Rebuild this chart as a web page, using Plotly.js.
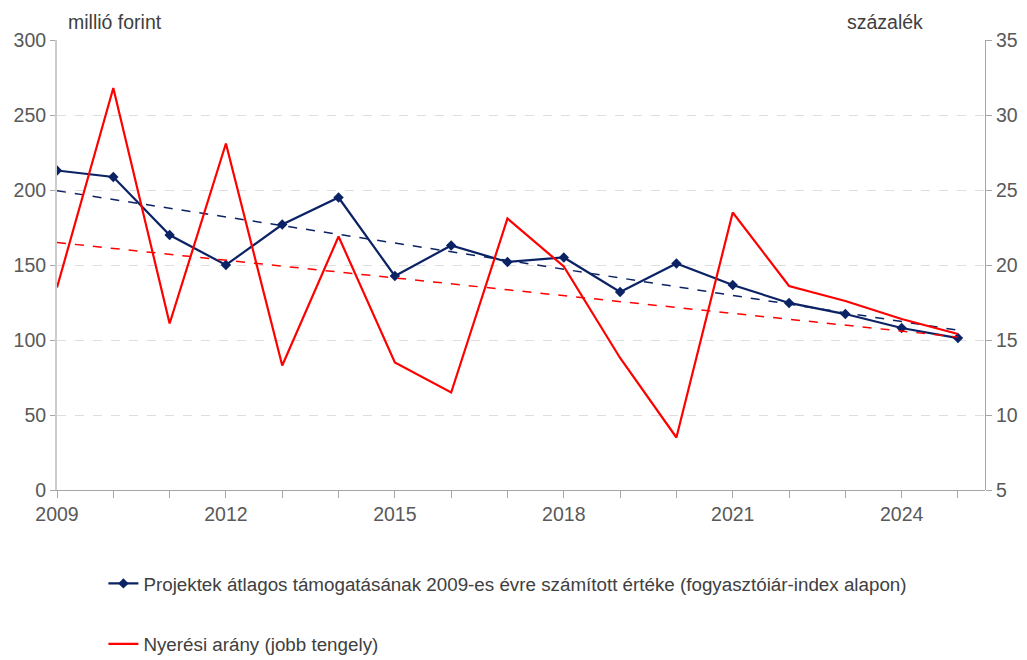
<!DOCTYPE html>
<html>
<head>
<meta charset="utf-8">
<script src="https://cdn.plot.ly/plotly-3.0.1.min.js"></script>
<style>html,body{margin:0;padding:0;background:#fff;}#chart{width:1027px;height:660px;}</style>
</head>
<body>
<div id="chart"></div>
<script>
// Data
var years = [2009,2010,2011,2012,2013,2014,2015,2016,2017,2018,2019,2020,2021,2022,2023,2024,2025];
var avgSupport = [213,208.7,170,150,177,195,142.7,163,152,155,132,151,136.7,124.7,117.3,108,101.3];
var winRate = [18.5,31.8,16.1,28.1,13.3,21.9,13.5,11.5,23.1,19.9,13.8,8.5,23.5,18.6,17.6,16.4,15.4];
var trendYears = [2009, 2025];
var avgSupportTrend = [199.5, 106.5];
var winRateTrend = [21.5, 15.2];
var xTickVals = [2009,2010,2011,2012,2013,2014,2015,2016,2017,2018,2019,2020,2021,2022,2023,2024,2025];
var xTickText = ['2009','','','2012','','','2015','','','2018','','','2021','','','2024',''];
var leftTitle = 'millió forint';
var rightTitle = 'százalék';
var nameBlue = 'Projektek átlagos támogatásának 2009-es évre számított értéke (fogyasztóiár-index alapon)';
var nameRed = 'Nyerési arány (jobb tengely)';

var blue = '#0b2265';
var red = '#ff0000';
var tickColor = '#595959';
var fs = 19.5;

var traces = [
  {x: trendYears, y: avgSupportTrend, type: 'scatter', mode: 'lines', yaxis: 'y',
   line: {color: blue, width: 1.5, dash: 'dash'}, showlegend: false, hoverinfo: 'skip'},
  {x: trendYears, y: winRateTrend, type: 'scatter', mode: 'lines', yaxis: 'y2',
   line: {color: red, width: 1.5, dash: 'dash'}, showlegend: false, hoverinfo: 'skip'},
  {x: years, y: winRate, type: 'scatter', mode: 'lines', yaxis: 'y2', name: nameRed,
   legendgroup: 'b', legendrank: 2,
   line: {color: red, width: 2.2}},
  {x: years, y: avgSupport, type: 'scatter', mode: 'lines+markers', yaxis: 'y', name: nameBlue,
   legendgroup: 'a', legendrank: 1,
   line: {color: blue, width: 2.2}, marker: {symbol: 'diamond', size: 8, color: blue}}
];

var layout = {
  width: 1027, height: 660,
  margin: {l: 57, r: 42, t: 40, b: 170, autoexpand: false},
  paper_bgcolor: '#fff', plot_bgcolor: '#fff',
  font: {family: 'Liberation Sans, Arial, sans-serif', color: tickColor, size: fs},
  xaxis: {
    range: [2009, 2025.48], tickmode: 'array', tickvals: xTickVals, ticktext: xTickText,
    ticks: 'outside', ticklen: 7, tickcolor: '#a6a6a6', showgrid: false, zeroline: false,
    showline: true, linecolor: '#a6a6a6', linewidth: 1, tickfont: {size: fs, color: tickColor}
  },
  yaxis: {
    range: [0, 300], tickvals: [0,50,100,150,200,250,300], ticks: 'outside', ticklen: 5,
    tickcolor: '#a6a6a6', showgrid: true, gridcolor: '#dedede', griddash: 'dash', gridwidth: 1,
    zeroline: false, showline: true, linecolor: '#cccccc', linewidth: 2,
    tickfont: {size: fs, color: tickColor}
  },
  yaxis2: {
    range: [5, 35], tickvals: [5,10,15,20,25,30,35], overlaying: 'y', side: 'right',
    anchor: 'free', position: 1, ticks: 'outside', ticklen: 6, tickcolor: '#a6a6a6',
    showgrid: false, zeroline: false, showline: true, linecolor: '#a6a6a6', linewidth: 1,
    tickfont: {size: fs, color: tickColor}
  },
  showlegend: true,
  legend: {
    x: 0.05, xanchor: 'left', y: -0.166, yanchor: 'top', orientation: 'v',
    traceorder: 'grouped', tracegroupgap: 33, itemwidth: 30,
    font: {size: 18.8, color: '#404040'}, bgcolor: 'rgba(0,0,0,0)'
  },
  annotations: [
    {text: leftTitle, xref: 'paper', yref: 'paper', x: 0.01, y: 1, xanchor: 'left', yanchor: 'bottom',
     yshift: 5, showarrow: false, font: {size: fs, color: '#404040'}},
    {text: rightTitle, xref: 'paper', yref: 'paper', x: 0.935, y: 1, xanchor: 'right', yanchor: 'bottom',
     yshift: 5, showarrow: false, font: {size: fs, color: '#404040'}}
  ]
};

Plotly.newPlot('chart', traces, layout, {displayModeBar: false, staticPlot: true});
</script>
</body>
</html>
